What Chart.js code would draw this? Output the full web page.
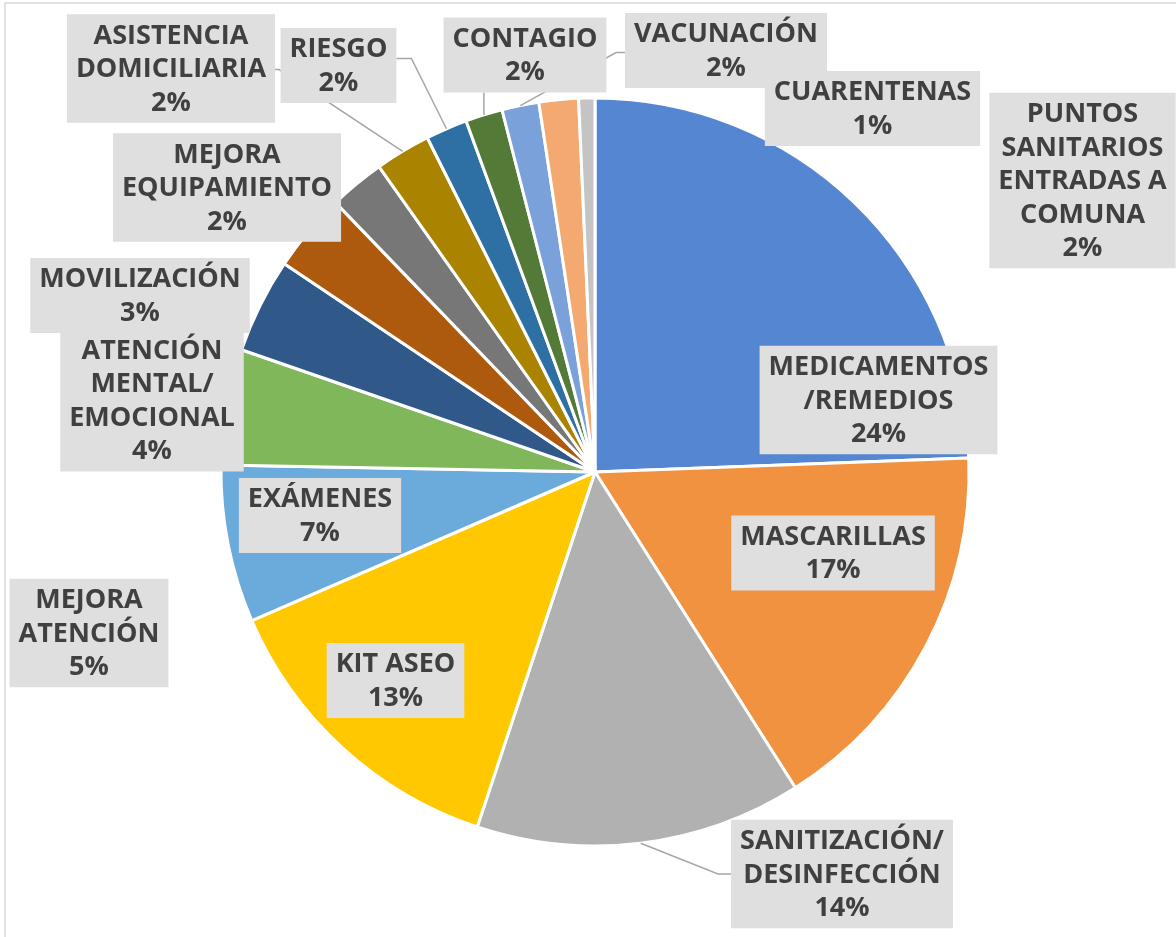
<!DOCTYPE html>
<html lang="es">
<head>
<meta charset="UTF-8">
<title>Solicitudes por tipo</title>
<script src="https://cdn.jsdelivr.net/npm/chart.js@4"></script>
<style>
  html, body { margin: 0; padding: 0; background: #fff; }
  canvas { display: block; }
</style>
</head>
<body>
<canvas id="pieChart" width="1176" height="937"></canvas>
<script>
// Categories (line breaks as wrapped in the labels)
const categories = [
  'MEDICAMENTOS\n/REMEDIOS',
  'MASCARILLAS',
  'SANITIZACIÓN/\nDESINFECCIÓN',
  'KIT ASEO',
  'EXÁMENES',
  'MEJORA\nATENCIÓN',
  'ATENCIÓN\nMENTAL/\nEMOCIONAL',
  'MOVILIZACIÓN',
  'MEJORA\nEQUIPAMIENTO',
  'ASISTENCIA\nDOMICILIARIA',
  'RIESGO',
  'CONTAGIO',
  'VACUNACIÓN',
  'PUNTOS\nSANITARIOS\nENTRADAS A\nCOMUNA',
  'CUARENTENAS'
];

// Share of each category (%)
const shares = [24.4, 16.6, 14.1, 13.4, 6.8, 5.0, 4.1, 3.4, 2.4, 2.4, 1.8, 1.6, 1.6, 1.7, 0.7];

const sliceColors = [
  '#5586D1', '#F19240', '#B1B1B1', '#FFC800', '#6AABDC',
  '#80B75B', '#305889', '#AE5A0E', '#777777', '#AA8400',
  '#2E70A3', '#537A36', '#7BA1DA', '#F3A96F', '#C4C4C4'
];

// Label box centres, offset from the pie centre (px)
const labelOffsets = [
  [283.5, -72], [238, 81], [247, 402], [-199.5, 208.5], [-275, 43.5],
  [-506, 161], [-443, -71.5], [-455, -176.5], [-368, -284.5], [-424, -403.5],
  [-256.5, -406.5], [-70, -417], [131, -421.5], [487.5, -291.5], [277.5, -363.5]
];

// Leader lines: [side of box, horizontal stub, vertical shift] or null
const leaders = [
  null, null, ['left', 13, 0], null, null,
  null, null, null, null, ['right', 4, 1],
  ['right', 15, -7], ['bottom', 0, 0], ['left', 9, 2], null, null
];

const FONT = 'bold 27px "Open Sans", "Liberation Sans", sans-serif';
const LINE_H = 33.5;

// white background + thin outer frame
const framePlugin = {
  id: 'frame',
  beforeDraw(chart) {
    const ctx = chart.ctx;
    ctx.save();
    ctx.fillStyle = '#fff';
    ctx.fillRect(0, 0, chart.width, chart.height);
    ctx.strokeStyle = '#D9D9D9';
    ctx.lineWidth = 1.5;
    ctx.strokeRect(5, 3, chart.width + 20, chart.height + 20);
    ctx.restore();
  }
};

// Excel-like data labels: grey boxes with leader lines
const labelPlugin = {
  id: 'boxLabels',
  afterDatasetsDraw(chart) {
    const ctx = chart.ctx;
    const arcs = chart.getDatasetMeta(0).data;
    const total = shares.reduce((a, b) => a + b, 0);
    ctx.save();
    ctx.font = FONT;

    const boxes = arcs.map((arc, i) => {
      const lines = categories[i].split('\n').concat(Math.round(shares[i] / total * 100) + '%');
      const w = Math.max(...lines.map(l => ctx.measureText(l).width)) + 18;
      const h = lines.length * LINE_H + 8;
      const cx = arc.x + labelOffsets[i][0];
      const cy = arc.y + labelOffsets[i][1];
      return { lines, cx, cy, w, h, x: cx - w / 2, y: cy - h / 2 };
    });

    // leader lines first, boxes go on top
    ctx.strokeStyle = '#A6A6A6';
    ctx.lineWidth = 1.5;
    arcs.forEach((arc, i) => {
      const ld = leaders[i];
      if (!ld) return;
      const b = boxes[i];
      const mid = (arc.startAngle + arc.endAngle) / 2;
      const ax = arc.x + Math.cos(mid) * arc.outerRadius;
      const ay = arc.y + Math.sin(mid) * arc.outerRadius;
      ctx.beginPath();
      if (ld[0] === 'bottom') {
        ctx.moveTo(ax, b.y + b.h);
        ctx.lineTo(ax, ay);
      } else {
        const dir = ld[0] === 'left' ? -1 : 1;
        const sx = ld[0] === 'left' ? b.x : b.x + b.w;
        const sy = b.cy + ld[2];
        ctx.moveTo(sx, sy);
        ctx.lineTo(sx + dir * ld[1], sy);
        ctx.lineTo(ax, ay);
      }
      ctx.stroke();
    });

    ctx.textAlign = 'center';
    ctx.textBaseline = 'middle';
    boxes.forEach(b => {
      ctx.fillStyle = '#DFDFDF';
      ctx.fillRect(b.x, b.y, b.w, b.h);
      ctx.fillStyle = '#404040';
      b.lines.forEach((line, k) => {
        const ly = b.cy + (k - (b.lines.length - 1) / 2) * LINE_H + 1;
        ctx.fillText(line, b.cx, ly);
      });
    });
    ctx.restore();
  }
};

new Chart(document.getElementById('pieChart'), {
  type: 'pie',
  data: {
    labels: categories.map(c => c.replace(/\n/g, ' ')),
    datasets: [{
      data: shares,
      backgroundColor: sliceColors,
      borderColor: '#FFFFFF',
      borderWidth: 3,
      radius: 374
    }]
  },
  options: {
    responsive: false,
    animation: false,
    devicePixelRatio: 1,
    layout: { padding: { left: 221, right: 207, top: 98, bottom: 91 } },
    plugins: {
      legend: { display: false },
      tooltip: { enabled: false }
    }
  },
  plugins: [framePlugin, labelPlugin]
});
</script>
</body>
</html>
